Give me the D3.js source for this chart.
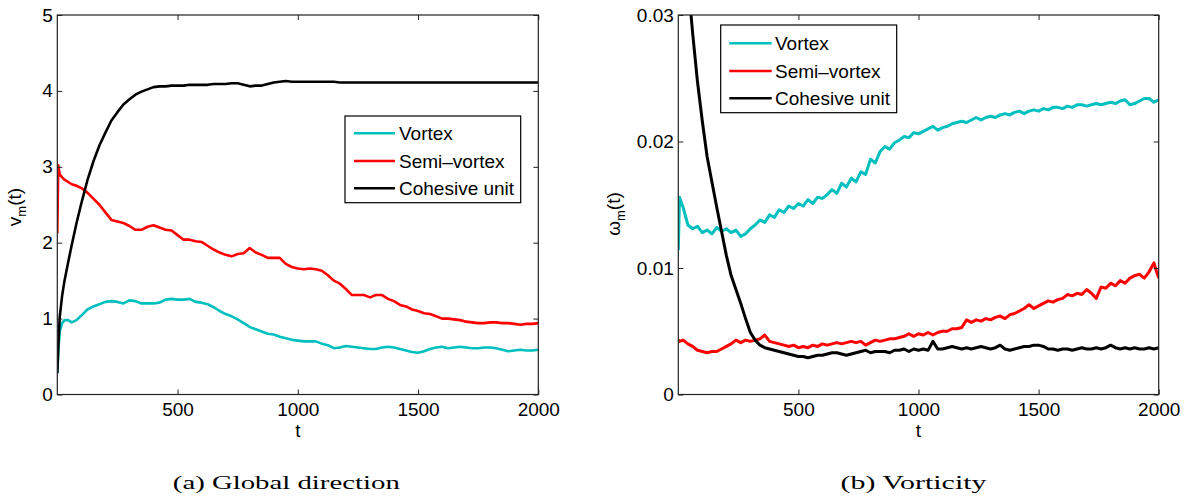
<!DOCTYPE html>
<html>
<head>
<meta charset="utf-8">
<script src="https://cdn.jsdelivr.net/npm/d3@7"></script>
<style>
  html, body { margin: 0; padding: 0; background: #fff; }
  svg { display: block; }
  text { font-family: "Liberation Sans", Arial, Helvetica, sans-serif; fill: #000; }
  text.caption { font-family: "Liberation Serif", "Times New Roman", serif; }
</style>
</head>
<body>
<svg id="fig" width="1184" height="502"></svg>
<script>
// ---------- data ----------
const seriesNames = ["Vortex", "Semi\u2013vortex", "Cohesive unit"];
const seriesColors = ["#00bfbf", "#ff0000", "#000000"];

// (a) global direction v_m(t)
const timeA = [0, 4, 10, 20, 30, 45, 60, 80,
  100, 125, 150, 175, 200, 225, 250, 275, 300, 325, 350, 375, 400, 425, 450, 475,
  500, 525, 550, 575, 600, 625, 650, 675, 700, 725, 750, 775, 800, 825, 850, 875,
  900, 925, 950, 975, 1000, 1025, 1050, 1075, 1100, 1125, 1150, 1175, 1200, 1225, 1250, 1275,
  1300, 1325, 1350, 1375, 1400, 1425, 1450, 1475, 1500, 1525, 1550, 1575, 1600, 1625, 1650, 1675,
  1700, 1725, 1750, 1775, 1800, 1825, 1850, 1875, 1900, 1925, 1950, 1975, 2000];
const vortexA = [0.28, 0.55, 0.83, 0.94, 0.98, 0.98, 0.95, 0.98,
  1.04, 1.12, 1.16, 1.19, 1.22, 1.23, 1.22, 1.20, 1.24, 1.23, 1.20, 1.20, 1.20, 1.21, 1.25, 1.26,
  1.25, 1.25, 1.26, 1.22, 1.21, 1.19, 1.15, 1.10, 1.06, 1.03, 0.99, 0.94, 0.89, 0.86, 0.83, 0.80,
  0.79, 0.76, 0.74, 0.72, 0.71, 0.70, 0.70, 0.70, 0.67, 0.65, 0.61, 0.62, 0.64, 0.63, 0.62, 0.61,
  0.60, 0.60, 0.62, 0.63, 0.62, 0.60, 0.58, 0.56, 0.55, 0.57, 0.60, 0.62, 0.63, 0.61, 0.62, 0.63,
  0.62, 0.61, 0.61, 0.62, 0.62, 0.61, 0.59, 0.57, 0.58, 0.59, 0.58, 0.58, 0.59];
const semiA = [2.12, 3.02, 2.90, 2.86, 2.83, 2.80, 2.77, 2.75,
  2.72, 2.66, 2.58, 2.50, 2.40, 2.30, 2.28, 2.26, 2.22, 2.17, 2.17, 2.21, 2.23, 2.20, 2.17, 2.16,
  2.10, 2.04, 2.04, 2.02, 2.01, 1.96, 1.91, 1.87, 1.84, 1.82, 1.85, 1.86, 1.93, 1.87, 1.84, 1.80,
  1.80, 1.80, 1.72, 1.68, 1.66, 1.65, 1.66, 1.65, 1.63, 1.57, 1.50, 1.46, 1.39, 1.31, 1.31, 1.31,
  1.28, 1.31, 1.31, 1.26, 1.23, 1.18, 1.16, 1.12, 1.10, 1.07, 1.06, 1.03, 1.00, 1.00, 0.99, 0.98,
  0.96, 0.95, 0.94, 0.94, 0.95, 0.95, 0.94, 0.94, 0.93, 0.92, 0.93, 0.93, 0.94];
const cohesiveA = [0.28, 0.62, 1.02, 1.30, 1.50, 1.74, 1.97, 2.26,
  2.52, 2.82, 3.07, 3.28, 3.45, 3.61, 3.72, 3.82, 3.89, 3.95, 3.99, 4.02, 4.05, 4.06, 4.06, 4.07,
  4.07, 4.07, 4.08, 4.08, 4.08, 4.08, 4.09, 4.09, 4.09, 4.10, 4.10, 4.08, 4.06, 4.07, 4.07, 4.09,
  4.11, 4.12, 4.13, 4.12, 4.12, 4.12, 4.12, 4.12, 4.12, 4.12, 4.12, 4.11, 4.11, 4.11, 4.11, 4.11,
  4.11, 4.11, 4.11, 4.11, 4.11, 4.11, 4.11, 4.11, 4.11, 4.11, 4.11, 4.11, 4.11, 4.11, 4.11, 4.11,
  4.11, 4.11, 4.11, 4.11, 4.11, 4.11, 4.11, 4.11, 4.11, 4.11, 4.11, 4.11, 4.11];

// (b) vorticity omega_m(t)
const timeB = [0, 5,
  20, 40, 60, 80, 100, 120, 140, 160, 180, 200,
  220, 240, 260, 280, 300, 320, 340, 360, 380, 400,
  420, 440, 460, 480, 500, 520, 540, 560, 580, 600,
  620, 640, 660, 680, 700, 720, 740, 760, 780, 800,
  820, 840, 860, 880, 900, 920, 940, 960, 980, 1000,
  1020, 1040, 1060, 1080, 1100, 1120, 1140, 1160, 1180, 1200,
  1220, 1240, 1260, 1280, 1300, 1320, 1340, 1360, 1380, 1400,
  1420, 1440, 1460, 1480, 1500, 1520, 1540, 1560, 1580, 1600,
  1620, 1640, 1660, 1680, 1700, 1720, 1740, 1760, 1780, 1800,
  1820, 1840, 1860, 1880, 1900, 1920, 1940, 1960, 1980, 2000];
const vortexB = [0.0114, 0.0156,
  0.0148, 0.0134, 0.0131, 0.0133, 0.0128, 0.0130, 0.0127, 0.0132, 0.0129, 0.0131,
  0.0128, 0.0130, 0.0125, 0.0127, 0.0131, 0.0134, 0.0138, 0.0136, 0.0142, 0.0140,
  0.0146, 0.0144, 0.0149, 0.0147, 0.0151, 0.0149, 0.0154, 0.0151, 0.0156, 0.0155,
  0.0158, 0.0162, 0.0159, 0.0167, 0.0164, 0.0171, 0.0168, 0.0176, 0.0174, 0.0186,
  0.0183, 0.0192, 0.0196, 0.0194, 0.0199, 0.0201, 0.0204, 0.0203, 0.0207, 0.0206,
  0.0208, 0.0210, 0.0212, 0.0209, 0.0211, 0.0212, 0.0214, 0.0215, 0.0216, 0.0215,
  0.0217, 0.0219, 0.0217, 0.0219, 0.0220, 0.0219, 0.0221, 0.0222, 0.0221, 0.0223,
  0.0224, 0.0222, 0.0224, 0.0225, 0.0224, 0.0226, 0.0225, 0.0227, 0.0227, 0.0226,
  0.0228, 0.0227, 0.0229, 0.0229, 0.0228, 0.0229, 0.0230, 0.0229, 0.0230, 0.0231,
  0.0230, 0.0232, 0.0233, 0.0229, 0.0230, 0.0232, 0.0234, 0.0234, 0.0231, 0.0233];
const semiB = [0.0043, 0.0042,
  0.0043, 0.0040, 0.0038, 0.0035, 0.0034, 0.0033, 0.0034, 0.0034, 0.0036, 0.0038,
  0.0040, 0.0043, 0.0041, 0.0043, 0.0042, 0.0043, 0.0044, 0.0047, 0.0042, 0.0041,
  0.0040, 0.0039, 0.0038, 0.0039, 0.0037, 0.0038, 0.0037, 0.0039, 0.0038, 0.0040,
  0.0039, 0.0040, 0.0041, 0.0040, 0.0041, 0.0042, 0.0041, 0.0042, 0.0039, 0.0041,
  0.0043, 0.0042, 0.0043, 0.0044, 0.0044, 0.0045, 0.0046, 0.0048, 0.0046, 0.0048,
  0.0047, 0.0049, 0.0047, 0.0049, 0.0050, 0.0050, 0.0052, 0.0052, 0.0053, 0.0059,
  0.0057, 0.0059, 0.0058, 0.0060, 0.0059, 0.0061, 0.0062, 0.0060, 0.0063, 0.0064,
  0.0066, 0.0068, 0.0071, 0.0068, 0.0070, 0.0072, 0.0074, 0.0073, 0.0075, 0.0076,
  0.0079, 0.0078, 0.0080, 0.0079, 0.0083, 0.0080, 0.0076, 0.0085, 0.0084, 0.0088,
  0.0086, 0.0090, 0.0088, 0.0092, 0.0094, 0.0095, 0.0092, 0.0097, 0.0104, 0.0092];
const cohesiveB = [0.0410, 0.0400,
  0.0370, 0.0328, 0.0285, 0.0247, 0.0216, 0.0188, 0.0168, 0.0148, 0.0129, 0.0110,
  0.0094, 0.0083, 0.0072, 0.0060, 0.0049, 0.0043, 0.0039, 0.0037, 0.0036, 0.0035,
  0.0034, 0.0033, 0.0032, 0.0031, 0.0030, 0.0030, 0.0029, 0.0030, 0.0031, 0.0031,
  0.0032, 0.0033, 0.0033, 0.0032, 0.0031, 0.0032, 0.0033, 0.0034, 0.0035, 0.0033,
  0.0034, 0.0034, 0.0034, 0.0033, 0.0035, 0.0035, 0.0036, 0.0034, 0.0036, 0.0035,
  0.0036, 0.0035, 0.0042, 0.0036, 0.0036, 0.0037, 0.0038, 0.0037, 0.0036, 0.0037,
  0.0036, 0.0037, 0.0038, 0.0037, 0.0036, 0.0037, 0.0039, 0.0036, 0.0035, 0.0036,
  0.0037, 0.0038, 0.0038, 0.0039, 0.0039, 0.0038, 0.0036, 0.0036, 0.0035, 0.0036,
  0.0036, 0.0035, 0.0036, 0.0037, 0.0036, 0.0036, 0.0037, 0.0036, 0.0037, 0.0039,
  0.0037, 0.0036, 0.0037, 0.0036, 0.0037, 0.0036, 0.0036, 0.0037, 0.0036, 0.0037];

// tick values
const xTicks = [500, 1000, 1500, 2000];
const yTicksA = [0, 1, 2, 3, 4, 5];
const yTicksB = [0, 0.01, 0.02, 0.03];

// ---------- drawing ----------
const svg = d3.select("#fig");
const FONT = 19;

function panel(opts) {
  const { id, x0, x1, y0, y1, xDomain, yDomain, yTicks, yFmt, times, series, curveWidth,
          legend, yLabel, yLabelPos, caption } = opts;
  const x = d3.scaleLinear().domain(xDomain).range([x0, x1]);
  const y = d3.scaleLinear().domain(yDomain).range([y1, y0]);
  const g = svg.append("g");

  g.append("clipPath").attr("id", "clip-" + id)
    .append("rect").attr("x", x0).attr("y", y0).attr("width", x1 - x0).attr("height", y1 - y0);

  // curves
  const line = d3.line().x((d) => x(d[0])).y((d) => y(d[1]));
  const lines = g.append("g").attr("clip-path", `url(#clip-${id})`);
  series.forEach((vals, i) => {
    lines.append("path")
      .datum(times.map((t, k) => [t, vals[k]]))
      .attr("d", line)
      .attr("fill", "none")
      .attr("stroke", seriesColors[i])
      .attr("stroke-width", curveWidth)
      .attr("stroke-linejoin", "round");
  });

  // axes with inward ticks on all four sides
  const TK = 5;
  const bottom = g.append("g").attr("transform", `translate(0,${y1})`)
    .call(d3.axisBottom(x).tickValues(xTicks).tickSize(-TK).tickPadding(8.5).tickFormat(d3.format("d")));
  const top = g.append("g").attr("transform", `translate(0,${y0})`)
    .call(d3.axisTop(x).tickValues(xTicks).tickSize(-TK).tickFormat(""));
  const left = g.append("g").attr("transform", `translate(${x0},0)`)
    .call(d3.axisLeft(y).tickValues(yTicks).tickSize(-TK).tickPadding(4.5).tickFormat(yFmt));
  const right = g.append("g").attr("transform", `translate(${x1},0)`)
    .call(d3.axisRight(y).tickValues(yTicks).tickSize(-TK).tickFormat(""));
  [bottom, top, left, right].forEach((a) => {
    a.select(".domain").remove();
    a.selectAll(".tick line").attr("stroke", "#222").attr("stroke-width", 1);
    a.selectAll(".tick text").attr("font-size", FONT)
      .attr("font-family", "Liberation Sans, Arial, sans-serif").attr("fill", "#000");
  });

  g.append("rect").attr("x", x0).attr("y", y0).attr("width", x1 - x0).attr("height", y1 - y0)
    .attr("fill", "none").attr("stroke", "#222").attr("stroke-width", 1.2);

  // x label
  g.append("text").attr("x", (x0 + x1) / 2).attr("y", 436.5)
    .attr("text-anchor", "middle").attr("font-size", FONT).text("t");

  // y label with subscript
  const yl = g.append("text")
    .attr("transform", `translate(${yLabelPos[0]},${yLabelPos[1]}) rotate(-90)`)
    .attr("text-anchor", "middle").attr("font-size", FONT);
  yl.append("tspan").text(yLabel);
  yl.append("tspan").attr("font-size", 13).attr("dy", 5).text("m");
  yl.append("tspan").attr("dy", -5).text("(t)");

  // legend
  const lg = g.append("g");
  lg.append("rect").attr("x", legend.x).attr("y", legend.y)
    .attr("width", legend.w).attr("height", legend.h)
    .attr("fill", "#fff").attr("stroke", "#000").attr("stroke-width", 1.2);
  seriesNames.forEach((name, i) => {
    const ry = legend.rows[i];
    lg.append("line").attr("x1", legend.lx0).attr("x2", legend.lx1)
      .attr("y1", ry).attr("y2", ry)
      .attr("stroke", seriesColors[i]).attr("stroke-width", 2.6);
    lg.append("text").attr("x", legend.tx).attr("y", ry + 6.8)
      .attr("font-size", FONT).text(name);
  });

  // caption
  svg.append("text").attr("class", "caption")
    .attr("x", caption.cx).attr("y", 488.5)
    .attr("text-anchor", "middle")
    .attr("font-size", 19)
    .attr("textLength", caption.w).attr("lengthAdjust", "spacingAndGlyphs")
    .text(caption.text);
}

panel({
  id: "a", x0: 57.3, x1: 538.3, y0: 15, y1: 394.5,
  xDomain: [0, 2000], yDomain: [0, 5], yTicks: yTicksA, yFmt: d3.format("d"),
  times: timeA, series: [vortexA, semiA, cohesiveA], curveWidth: 2.6,
  legend: { x: 345, y: 116, w: 175.7, h: 86.7, rows: [133.3, 161, 188.3], lx0: 354, lx1: 395, tx: 399 },
  yLabel: "v", yLabelPos: [21, 207],
  caption: { cx: 286.3, w: 227, text: "(a) Global direction" }
});

panel({
  id: "b", x0: 678.3, x1: 1158.7, y0: 15, y1: 394.5,
  xDomain: [0, 2000], yDomain: [0, 0.03], yTicks: yTicksB,
  yFmt: (d) => (d === 0 ? "0" : d3.format(".2f")(d)),
  times: timeB, series: [vortexB, semiB, cohesiveB], curveWidth: 3,
  legend: { x: 720.7, y: 25, w: 176, h: 87.7, rows: [43.3, 71, 98.3], lx0: 729.3, lx1: 771.7, tx: 775 },
  yLabel: "\u03c9", yLabelPos: [619.5, 214],
  caption: { cx: 913.5, w: 146, text: "(b) Vorticity" }
});
</script>
</body>
</html>
